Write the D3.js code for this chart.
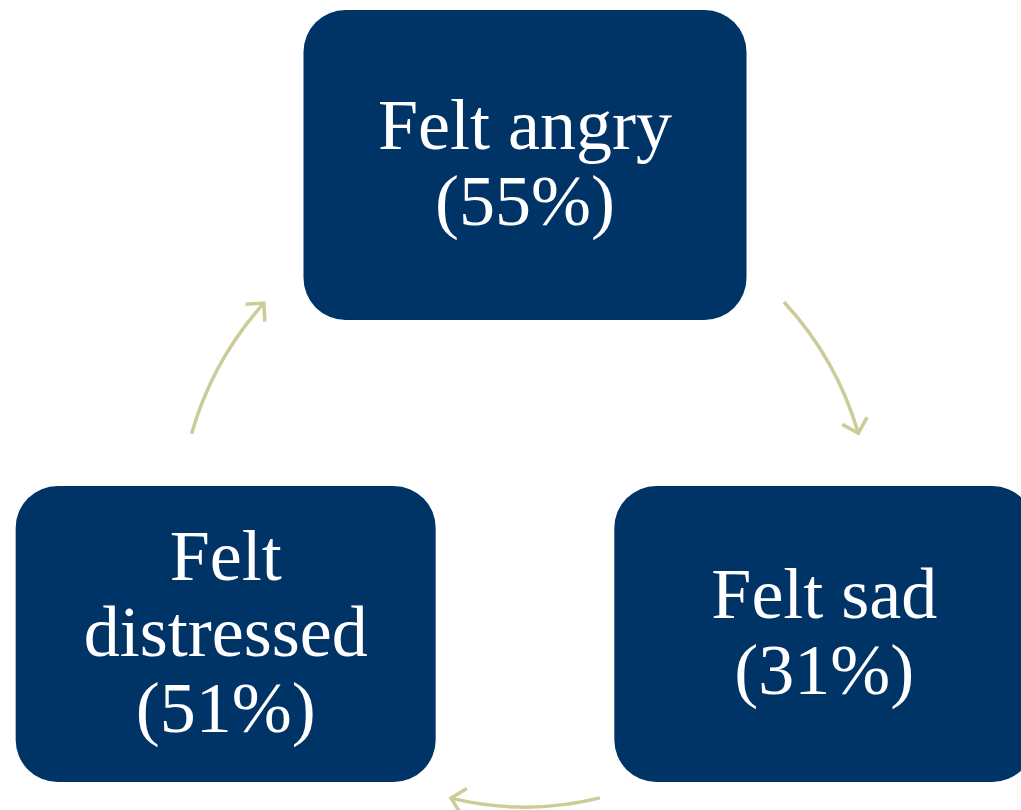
<!DOCTYPE html>
<html>
<head>
<meta charset="utf-8">
<script src="https://cdn.jsdelivr.net/npm/d3@7"></script>
<style>
  html, body { margin: 0; padding: 0; background: #fff; overflow: hidden; }
</style>
</head>
<body>
<div class="cycle-container"></div>
<script>
// Emotions reported, in cycle order (clockwise from top)
const emotions = ["Felt angry", "Felt sad", "Felt distressed"];
const shares = [55, 31, 51];

const width = 1021;
const height = 810;
const boxFill = "#003366";
const arrowColor = "#cccc99";
const fontSize = 72;
const lineHeight = 76;

const svg = d3.select(".cycle-container").append("svg")
    .attr("width", width)
    .attr("height", height);

// Boxes sit on a circle around the centre; bottom pair is pushed up a bit
const center = { x: 525, y: 495 };
const ringRadius = 330;
const nodeAngles = [-90, 24.9, 155.1];
const angleScale = d3.scaleOrdinal()
    .domain(emotions)
    .range(nodeAngles.map(a => a * Math.PI / 180));

const nodes = emotions.map((label, i) => {
    const a = angleScale(label);
    return {
        label: label,
        share: shares[i],
        x: center.x + ringRadius * Math.cos(a),
        y: center.y + ringRadius * Math.sin(a),
        w: i === 0 ? 443 : 420,
        h: i === 0 ? 310 : 296
    };
});

// Arrow marker (open chevron)
svg.append("defs").append("marker")
    .attr("id", "chev")
    .attr("viewBox", "-16 -16 20 32")
    .attr("refX", 0)
    .attr("refY", 0)
    .attr("markerWidth", 20)
    .attr("markerHeight", 32)
    .attr("markerUnits", "userSpaceOnUse")
    .attr("orient", "auto")
    .append("path")
    .attr("d", "M-13,-13 L0,0 L-13,13")
    .attr("fill", "none")
    .attr("stroke", arrowColor)
    .attr("stroke-width", 3.5);

// Arrows between boxes: polar endpoints around the centre (deg, radius)
const arrowGeom = [
    { a0: -36.7, r0: 323, a1: -10.5, r1: 339, r: 330 },
    { a0: 76.1, r0: 312, a1: 103.7, r1: 312, r: 312 },
    { a0: 190.4, r0: 339, a1: 216.3, r1: 324, r: 330 }
];
const polar = (deg, r) => [center.x + r * Math.cos(deg * Math.PI / 180),
                           center.y + r * Math.sin(deg * Math.PI / 180)];

svg.selectAll("path.arrow")
    .data(arrowGeom)
    .enter()
    .append("path")
    .attr("class", "arrow")
    .attr("d", g => {
        const p0 = polar(g.a0, g.r0);
        const p1 = polar(g.a1, g.r1);
        return "M" + p0[0] + "," + p0[1] + " A" + g.r + "," + g.r + " 0 0 1 " + p1[0] + "," + p1[1];
    })
    .attr("fill", "none")
    .attr("stroke", arrowColor)
    .attr("stroke-width", 3.5)
    .attr("marker-end", "url(#chev)");

// Boxes
const box = svg.selectAll("g.node")
    .data(nodes)
    .enter()
    .append("g")
    .attr("class", "node")
    .attr("transform", d => "translate(" + d.x + "," + d.y + ")");

box.append("rect")
    .attr("x", d => -d.w / 2)
    .attr("y", d => -d.h / 2)
    .attr("width", d => d.w)
    .attr("height", d => d.h)
    .attr("rx", 42)
    .attr("ry", 42)
    .attr("fill", boxFill);

const text = box.append("text")
    .attr("text-anchor", "middle")
    .attr("fill", "#fff")
    .style("font-family", "'Liberation Serif', 'Times New Roman', serif")
    .style("font-size", fontSize + "px");

// Wrap label words to the box width, then add the share line
text.each(function (d) {
    const t = d3.select(this);
    const words = d.label.split(" ");
    const lines = [];
    let current = "";
    const probe = t.append("tspan");
    words.forEach(w => {
        const trial = current ? current + " " + w : w;
        probe.text(trial);
        if (probe.node().getComputedTextLength() > d.w - 60 && current) {
            lines.push(current);
            current = w;
        } else {
            current = trial;
        }
    });
    lines.push(current);
    probe.remove();
    lines.push("(" + d.share + "%)");

    const firstBaseline = -((lines.length - 1) * lineHeight) / 2 + fontSize * 0.31;
    lines.forEach((line, k) => {
        t.append("tspan")
            .attr("x", 0)
            .attr("y", firstBaseline + k * lineHeight)
            .text(line);
    });
});
</script>
</body>
</html>
